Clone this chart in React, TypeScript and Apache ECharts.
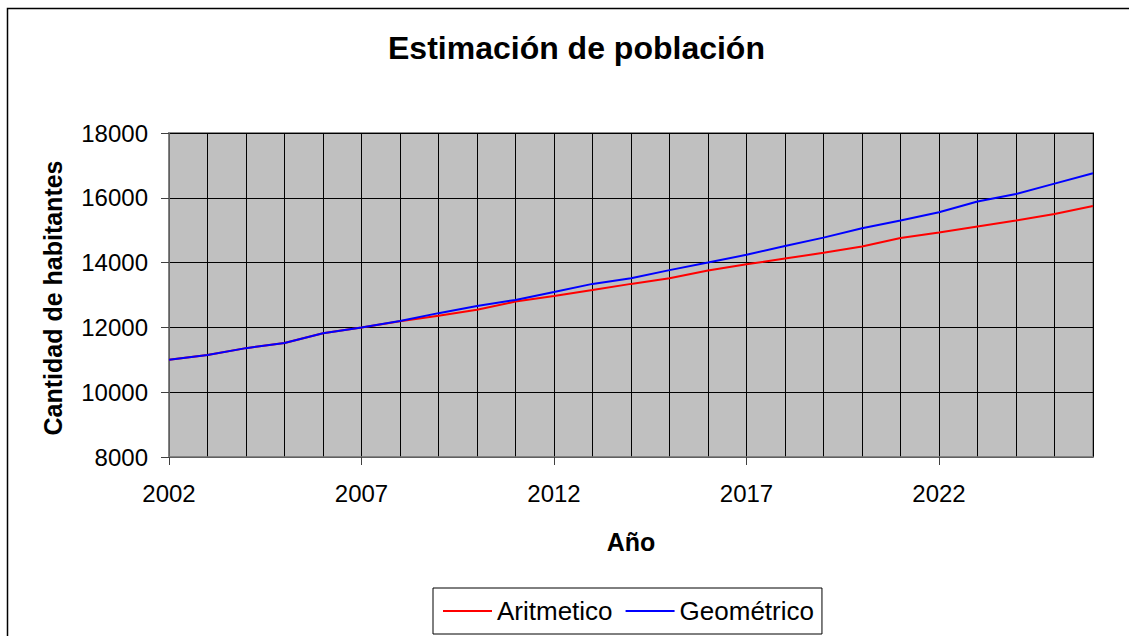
import React, { useEffect, useRef } from "react";
import * as echarts from "echarts";

const years: string[] = [
  "2002", "2003", "2004", "2005", "2006", "2007", "2008", "2009", "2010", "2011",
  "2012", "2013", "2014", "2015", "2016", "2017", "2018", "2019", "2020", "2021",
  "2022", "2023", "2024", "2025", "2026",
];

const aritmetico: number[] = [
  11000, 11150, 11360, 11520, 11820, 12000, 12190, 12360, 12545, 12798,
  12970, 13151, 13343, 13515, 13758, 13950, 14125, 14302, 14500, 14761,
  14927, 15115, 15302, 15500, 15750,
];

const geometrico: number[] = [
  11000, 11150, 11360, 11520, 11820, 12000, 12200, 12440, 12660, 12848,
  13091, 13343, 13515, 13768, 14000, 14240, 14510, 14771, 15063, 15302,
  15552, 15886, 16115, 16438, 16760,
];

const yAxisTitle = "Cantidad de habitantes";
const FONT = "'Liberation Sans', Arial, sans-serif";

export default function App() {
  const ref = useRef<HTMLDivElement>(null);
  useEffect(() => {
    if (!ref.current) return;
    const chart = echarts.init(ref.current, undefined, { renderer: "svg" });
    chart.setOption({
      animation: false,
      backgroundColor: "#ffffff",
      textStyle: { fontFamily: FONT },
      title: {
        text: "Estimación de población",
        left: 388,
        top: 32,
        padding: 0,
        textStyle: { fontFamily: FONT, fontSize: 32, fontWeight: "bold", color: "#000" },
      },
      graphic: [
        {
          type: "rect",
          shape: { x: 7.5, y: 8.5, width: 1300, height: 800 },
          style: { fill: "none", stroke: "#000", lineWidth: 1.5 },
          silent: true,
        },
        {
          type: "text",
          x: 53,
          y: 298,
          rotation: Math.PI / 2,
          style: {
            text: yAxisTitle,
            fontFamily: FONT,
            fontSize: 25,
            fontWeight: "bold",
            fill: "#000",
            align: "center",
            verticalAlign: "middle",
          },
        },
      ],
      legend: {
        left: 433,
        top: 588,
        padding: [10, 8, 10, 10],
        borderColor: "#000",
        borderWidth: 1,
        itemWidth: 49,
        itemHeight: 2,
        itemGap: 13,
        icon: "rect",
        textStyle: { fontFamily: FONT, fontSize: 26, color: "#000" },
        data: ["Aritmetico", "Geométrico"],
      },
      grid: {
        left: 169,
        right: 36,
        top: 133,
        bottom: 179,
        show: true,
        backgroundColor: "#c0c0c0",
        borderColor: "#8c8c8c",
        borderWidth: 2,
      },
      xAxis: {
        type: "category",
        data: years,
        boundaryGap: false,
        name: "Año",
        nameLocation: "middle",
        nameGap: 72,
        nameTextStyle: { fontFamily: FONT, fontSize: 25, fontWeight: "bold", color: "#000" },
        axisLine: { lineStyle: { color: "#808080", width: 1.5 } },
        axisTick: { interval: 4, length: 8, lineStyle: { color: "#404040" } },
        axisLabel: { interval: 4, fontFamily: FONT, fontSize: 24, color: "#000", margin: 24 },
        splitLine: { show: true, interval: 0, lineStyle: { color: "#000", width: 1 } },
      },
      yAxis: {
        type: "value",
        min: 8000,
        max: 18000,
        interval: 2000,
        axisLine: { show: true, lineStyle: { color: "#808080", width: 1.5 } },
        axisTick: { show: true, length: 8, lineStyle: { color: "#404040" } },
        axisLabel: {
          fontFamily: FONT,
          fontSize: 24,
          color: "#000",
          margin: 21,
          formatter: (v: number) => String(v),
        },
        splitLine: { show: true, lineStyle: { color: "#000", width: 1 } },
      },
      series: [
        {
          name: "Aritmetico",
          type: "line",
          data: aritmetico,
          showSymbol: false,
          symbol: "none",
          lineStyle: { color: "#ff0000", width: 2 },
          itemStyle: { color: "#ff0000" },
          z: 3,
        },
        {
          name: "Geométrico",
          type: "line",
          data: geometrico,
          showSymbol: false,
          symbol: "none",
          lineStyle: { color: "#0000ff", width: 2 },
          itemStyle: { color: "#0000ff" },
          z: 4,
        },
      ],
    });
    return () => chart.dispose();
  }, []);
  return (
    <div
      ref={ref}
      style={{ position: "fixed", left: 0, top: 0, width: 1129, height: 636, background: "#fff" }}
    />
  );
}
